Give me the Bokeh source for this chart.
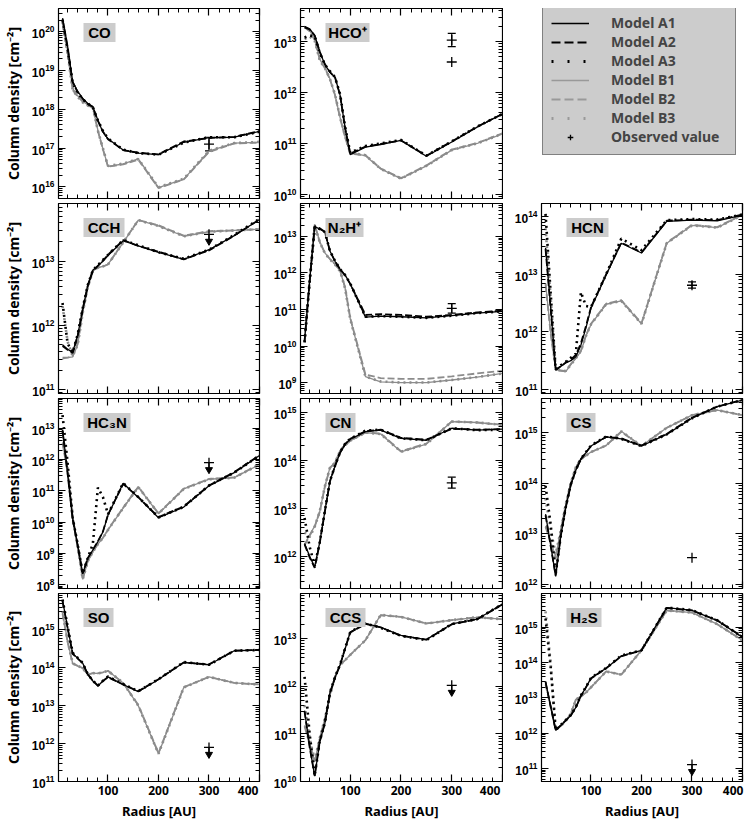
import numpy as np
from bokeh.plotting import figure
from bokeh.layouts import gridplot
from bokeh.models import (FixedTicker, LinearAxis, LogAxis, Range1d, Legend,
                          LegendItem, Whisker, ColumnDataSource, TeeHead, CustomJSTickFormatter)
from bokeh.embed import file_html
from bokeh.resources import INLINE
from bokeh.core.properties import value

# ---------------- data (log10 column density) ----------------
RADIUS = [10, 20, 30, 40, 50, 60, 70, 80, 90, 100, 130, 160, 200, 250, 300, 350, 400]

CO_A1 = [20.35, 19.63, 18.72, 18.46, 18.28, 18.15, 18.07, 17.72, 17.41, 17.24, 16.95, 16.87, 16.83, 17.15, 17.27, 17.28, 17.43]
CO_A2 = [20.33, 19.60, 18.70, 18.44, 18.27, 18.14, 18.06, 17.70, 17.43, 17.23, 16.95, 16.88, 16.84, 17.17, 17.26, 17.29, 17.44]
CO_A3 = [20.30, 19.55, 18.68, 18.43, 18.26, 18.15, 18.05, 17.72, 17.44, 17.25, 16.96, 16.87, 16.83, 17.14, 17.28, 17.28, 17.42]
CO_B1 = [20.30, 19.50, 18.54, 18.35, 18.20, 18.12, 18.06, 17.46, 16.98, 16.53, 16.59, 16.72, 15.98, 16.20, 16.92, 17.13, 17.15]
CO_B2 = [20.28, 19.48, 18.50, 18.33, 18.20, 18.10, 18.04, 17.44, 16.97, 16.52, 16.58, 16.70, 15.97, 16.19, 16.90, 17.12, 17.14]
CO_B3 = [20.25, 19.45, 18.50, 18.32, 18.18, 18.10, 18.05, 17.45, 16.99, 16.54, 16.60, 16.72, 15.99, 16.21, 16.93, 17.13, 17.16]

HCOP_A1 = [13.30, 13.25, 13.12, 12.80, 12.55, 12.40, 12.30, 11.95, 11.30, 10.78, 10.93, 10.98, 11.06, 10.75, 11.03, 11.32, 11.58]
HCOP_A2 = [13.28, 13.24, 13.12, 12.80, 12.56, 12.40, 12.30, 11.95, 11.30, 10.80, 10.94, 10.99, 11.06, 10.76, 11.04, 11.33, 11.58]
HCOP_A3 = [13.08, 13.12, 13.10, 12.78, 12.55, 12.42, 12.30, 11.97, 11.32, 10.82, 10.95, 11.00, 11.07, 10.76, 11.04, 11.33, 11.58]
HCOP_B1 = [13.30, 13.22, 13.05, 12.65, 12.49, 12.27, 11.95, 11.51, 11.13, 10.81, 10.76, 10.50, 10.31, 10.56, 10.87, 11.00, 11.19]
HCOP_B2 = [13.28, 13.20, 13.03, 12.64, 12.48, 12.26, 11.95, 11.50, 11.12, 10.80, 10.77, 10.51, 10.32, 10.57, 10.88, 11.01, 11.20]
HCOP_B3 = [13.05, 13.10, 13.02, 12.63, 12.48, 12.27, 11.96, 11.52, 11.14, 10.82, 10.77, 10.50, 10.31, 10.56, 10.87, 11.00, 11.19]

CCH_A1 = [11.70, 11.63, 11.58, 11.85, 12.25, 12.63, 12.86, 12.93, 13.00, 13.09, 13.32, 13.24, 13.14, 13.03, 13.18, 13.40, 13.65]
CCH_A2 = [11.68, 11.62, 11.57, 11.84, 12.26, 12.62, 12.85, 12.93, 13.01, 13.10, 13.33, 13.24, 13.15, 13.03, 13.17, 13.40, 13.65]
CCH_A3 = [12.35, 11.72, 11.58, 11.86, 12.27, 12.63, 12.86, 12.94, 13.02, 13.10, 13.33, 13.25, 13.14, 13.04, 13.18, 13.41, 13.66]
CCH_B1 = [11.48, 11.50, 11.51, 11.70, 12.20, 12.60, 12.85, 12.90, 12.92, 12.95, 13.29, 13.64, 13.55, 13.39, 13.46, 13.48, 13.50]
CCH_B2 = [11.50, 11.50, 11.52, 11.72, 12.22, 12.60, 12.86, 12.90, 12.92, 12.95, 13.30, 13.64, 13.56, 13.40, 13.47, 13.48, 13.50]
CCH_B3 = [12.30, 11.75, 11.52, 11.70, 12.20, 12.60, 12.85, 12.90, 12.92, 12.95, 13.29, 13.64, 13.55, 13.39, 13.46, 13.48, 13.50]

N2HP_A1 = [10.15, 11.78, 13.27, 13.20, 13.12, 12.60, 12.32, 12.10, 11.94, 11.70, 10.79, 10.82, 10.80, 10.77, 10.83, 10.90, 10.95]
N2HP_A2 = [10.13, 11.76, 13.28, 13.22, 13.12, 12.60, 12.32, 12.10, 11.93, 11.70, 10.85, 10.87, 10.85, 10.80, 10.85, 10.92, 10.97]
N2HP_A3 = [10.10, 11.75, 13.26, 13.20, 13.12, 12.60, 12.33, 12.10, 11.94, 11.71, 10.80, 10.82, 10.80, 10.77, 10.83, 10.90, 10.95]
N2HP_B1 = [10.15, 11.80, 13.33, 12.85, 12.55, 12.38, 12.24, 12.06, 11.58, 10.75, 9.16, 9.02, 9.00, 9.00, 9.07, 9.15, 9.25]
N2HP_B2 = [10.13, 11.78, 13.32, 12.84, 12.55, 12.38, 12.24, 12.06, 11.60, 10.77, 9.22, 9.12, 9.10, 9.10, 9.17, 9.25, 9.32]
N2HP_B3 = [10.10, 11.77, 13.30, 12.84, 12.54, 12.37, 12.23, 12.05, 11.57, 10.74, 9.16, 9.03, 9.00, 9.00, 9.07, 9.15, 9.25]

HCN_A1 = [13.46, 12.44, 11.35, 11.40, 11.46, 11.50, 11.57, 11.77, 12.07, 12.41, 12.99, 13.54, 13.37, 13.92, 13.94, 13.93, 14.03]
HCN_A2 = [13.44, 12.42, 11.34, 11.40, 11.47, 11.52, 11.60, 11.80, 12.10, 12.43, 13.00, 13.55, 13.38, 13.93, 13.95, 13.94, 14.04]
HCN_A3 = [14.05, 12.69, 11.35, 11.42, 11.48, 11.55, 11.62, 12.69, 12.45, 12.43, 13.00, 13.62, 13.42, 13.94, 13.96, 13.95, 14.04]
HCN_B1 = [12.85, 12.00, 11.35, 11.32, 11.31, 11.43, 11.54, 11.66, 11.93, 12.13, 12.48, 12.54, 12.14, 13.54, 13.85, 13.81, 14.03]
HCN_B2 = [12.83, 11.98, 11.34, 11.33, 11.32, 11.44, 11.55, 11.67, 11.94, 12.14, 12.49, 12.55, 12.15, 13.55, 13.86, 13.82, 14.04]
HCN_B3 = [13.80, 12.60, 11.35, 11.33, 11.32, 11.43, 11.54, 11.67, 11.93, 12.13, 12.48, 12.54, 12.14, 13.54, 13.85, 13.81, 14.03]

HC3N_A1 = [12.95, 11.58, 10.11, 9.27, 8.35, 8.85, 9.11, 9.38, 9.69, 10.22, 11.24, 10.79, 10.14, 10.48, 11.16, 11.58, 12.13]
HC3N_A2 = [12.93, 11.56, 10.10, 9.26, 8.37, 8.85, 9.12, 9.39, 9.70, 10.24, 11.22, 10.80, 10.16, 10.50, 11.17, 11.60, 12.14]
HC3N_A3 = [13.42, 11.90, 10.15, 9.28, 8.36, 8.86, 9.30, 11.10, 10.80, 10.25, 11.25, 10.80, 10.15, 10.49, 11.17, 11.58, 12.13]
HC3N_B1 = [12.55, 11.60, 10.20, 9.20, 8.17, 8.75, 9.05, 9.30, 9.50, 9.75, 10.45, 11.12, 10.27, 11.06, 11.37, 11.42, 11.84]
HC3N_B2 = [12.53, 11.58, 10.18, 9.20, 8.18, 8.76, 9.05, 9.30, 9.50, 9.76, 10.46, 11.13, 10.28, 11.07, 11.38, 11.43, 11.85]
HC3N_B3 = [12.90, 11.70, 10.20, 9.21, 8.18, 8.75, 9.05, 9.30, 9.50, 9.75, 10.45, 11.12, 10.27, 11.06, 11.37, 11.42, 11.84]

CN_A1 = [12.27, 12.00, 11.78, 12.30, 12.94, 13.57, 13.88, 14.16, 14.34, 14.44, 14.60, 14.63, 14.46, 14.42, 14.67, 14.63, 14.65]
CN_A2 = [12.25, 11.98, 11.76, 12.28, 12.93, 13.56, 13.88, 14.16, 14.34, 14.45, 14.61, 14.64, 14.47, 14.43, 14.66, 14.64, 14.65]
CN_A3 = [12.80, 12.20, 11.80, 12.30, 12.95, 13.57, 13.89, 14.17, 14.35, 14.45, 14.62, 14.64, 14.46, 14.42, 14.67, 14.63, 14.64]
CN_B1 = [12.25, 12.45, 12.63, 12.94, 13.46, 13.85, 13.95, 14.20, 14.32, 14.41, 14.58, 14.55, 14.18, 14.34, 14.81, 14.79, 14.74]
CN_B2 = [12.23, 12.43, 12.62, 12.93, 13.45, 13.84, 13.95, 14.20, 14.32, 14.41, 14.58, 14.56, 14.19, 14.35, 14.81, 14.79, 14.74]
CN_B3 = [12.50, 12.40, 12.62, 12.94, 13.46, 13.85, 13.95, 14.20, 14.32, 14.41, 14.58, 14.55, 14.18, 14.34, 14.81, 14.79, 14.74]

CS_A1 = [13.39, 12.79, 12.16, 12.94, 13.52, 13.97, 14.26, 14.48, 14.61, 14.74, 14.92, 14.88, 14.74, 14.97, 15.29, 15.52, 15.65]
CS_A2 = [13.37, 12.77, 12.18, 12.95, 13.52, 13.97, 14.26, 14.48, 14.61, 14.74, 14.92, 14.89, 14.75, 14.98, 15.30, 15.52, 15.65]
CS_A3 = [13.95, 13.20, 12.20, 12.95, 13.53, 13.98, 14.27, 14.49, 14.62, 14.75, 14.93, 14.88, 14.74, 14.97, 15.29, 15.52, 15.65]
CS_B1 = [13.16, 12.85, 12.55, 13.06, 13.58, 14.00, 14.32, 14.48, 14.55, 14.62, 14.75, 15.03, 14.74, 15.10, 15.35, 15.45, 15.35]
CS_B2 = [13.14, 12.84, 12.50, 13.05, 13.57, 14.00, 14.32, 14.48, 14.55, 14.62, 14.75, 15.02, 14.74, 15.10, 15.35, 15.45, 15.35]
CS_B3 = [13.70, 13.10, 12.60, 13.06, 13.58, 14.00, 14.32, 14.48, 14.55, 14.62, 14.75, 15.03, 14.74, 15.10, 15.35, 15.45, 15.35]

SO_A1 = [15.78, 15.07, 14.38, 14.25, 14.12, 13.82, 13.65, 13.52, 13.65, 13.76, 13.56, 13.37, 13.69, 14.14, 14.08, 14.45, 14.47]
SO_A2 = [15.76, 15.05, 14.37, 14.24, 14.12, 13.83, 13.66, 13.53, 13.65, 13.75, 13.56, 13.38, 13.70, 14.14, 14.09, 14.45, 14.47]
SO_A3 = [15.80, 15.10, 14.40, 14.26, 14.13, 13.83, 13.66, 13.53, 13.66, 13.77, 13.57, 13.38, 13.70, 14.15, 14.08, 14.45, 14.47]
SO_B1 = [15.45, 14.70, 14.12, 14.05, 13.99, 13.82, 13.86, 13.85, 13.88, 13.92, 13.60, 13.00, 11.73, 13.48, 13.76, 13.60, 13.56]
SO_B2 = [15.43, 14.68, 14.11, 14.05, 13.99, 13.82, 13.86, 13.85, 13.88, 13.92, 13.60, 13.02, 11.75, 13.49, 13.76, 13.60, 13.56]
SO_B3 = [15.50, 14.72, 14.12, 14.05, 13.99, 13.82, 13.86, 13.85, 13.88, 13.92, 13.60, 13.00, 11.73, 13.48, 13.76, 13.60, 13.56]

CCS_A1 = [11.49, 10.74, 10.11, 10.84, 11.22, 11.87, 12.18, 12.45, 12.79, 13.14, 13.32, 13.24, 13.07, 12.98, 13.31, 13.41, 13.73]
CCS_A2 = [11.47, 10.72, 10.12, 10.84, 11.22, 11.86, 12.18, 12.45, 12.80, 13.13, 13.31, 13.24, 13.06, 12.98, 13.30, 13.41, 13.72]
CCS_A3 = [12.20, 11.00, 10.12, 10.85, 11.23, 11.87, 12.19, 12.46, 12.80, 13.14, 13.32, 13.23, 13.06, 12.97, 13.31, 13.41, 13.73]
CCS_B1 = [11.18, 10.80, 10.43, 10.91, 11.32, 11.80, 12.21, 12.45, 12.55, 12.66, 12.97, 13.50, 13.46, 13.32, 13.39, 13.45, 13.41]
CCS_B2 = [11.16, 10.78, 10.40, 10.90, 11.31, 11.80, 12.21, 12.45, 12.55, 12.66, 12.97, 13.49, 13.46, 13.32, 13.39, 13.45, 13.41]
CCS_B3 = [11.60, 10.90, 10.45, 10.91, 11.32, 11.80, 12.21, 12.45, 12.55, 12.66, 12.97, 13.50, 13.46, 13.32, 13.39, 13.45, 13.41]

H2S_A1 = [13.47, 12.78, 12.08, 12.22, 12.36, 12.50, 12.73, 13.06, 13.30, 13.56, 13.84, 14.19, 14.35, 15.56, 15.48, 15.19, 14.72]
H2S_A2 = [13.45, 12.77, 12.08, 12.22, 12.36, 12.50, 12.73, 13.05, 13.30, 13.55, 13.84, 14.18, 14.35, 15.55, 15.48, 15.20, 14.73]
H2S_A3 = [15.25, 13.90, 12.08, 12.23, 12.37, 12.51, 12.74, 13.07, 13.31, 13.57, 13.85, 14.20, 14.35, 15.56, 15.49, 15.20, 14.72]
H2S_B1 = [13.40, 12.75, 12.11, 12.20, 12.35, 12.55, 12.95, 13.05, 13.15, 13.30, 13.75, 13.66, 14.35, 15.48, 15.42, 15.09, 14.63]
H2S_B2 = [13.38, 12.74, 12.10, 12.20, 12.35, 12.55, 12.95, 13.05, 13.15, 13.30, 13.75, 13.66, 14.35, 15.48, 15.42, 15.09, 14.63]
H2S_B3 = [15.45, 14.00, 12.11, 12.20, 12.35, 12.55, 12.95, 13.05, 13.15, 13.30, 13.75, 13.66, 14.35, 15.48, 15.42, 15.09, 14.63]

MODELS = ["Model A1", "Model A2", "Model A3", "Model B1", "Model B2", "Model B3"]

# observed values (log10), at 300 AU
OBS_SPECIES = ["CO", "HCO+", "HCO+", "CCH", "N2H+", "HCN", "HC3N", "CN", "CS", "SO", "CCS", "H2S"]
OBS_RADIUS = [300, 300, 300, 300, 300, 300, 300, 300, 300, 300, 300, 300]
OBS_LOG = [17.10, 13.03, 12.60, 13.42, 11.03, 12.81, 11.90, 13.53, 12.53, 11.90, 12.02, 11.11]
OBS_LOG_LO = [16.93, 12.90, None, None, 10.90, 12.76, None, 13.42, None, None, None, None]
OBS_LOG_HI = [17.28, 13.16, None, None, 11.16, 12.87, None, 13.65, None, None, None, None]
OBS_UPPER_LIMIT = [False, False, False, True, False, False, True, False, False, True, True, True]

# ---------------- layout / style ----------------
SERIES = {
    "CO": [CO_A1, CO_A2, CO_A3, CO_B1, CO_B2, CO_B3],
    "HCO+": [HCOP_A1, HCOP_A2, HCOP_A3, HCOP_B1, HCOP_B2, HCOP_B3],
    "CCH": [CCH_A1, CCH_A2, CCH_A3, CCH_B1, CCH_B2, CCH_B3],
    "N2H+": [N2HP_A1, N2HP_A2, N2HP_A3, N2HP_B1, N2HP_B2, N2HP_B3],
    "HCN": [HCN_A1, HCN_A2, HCN_A3, HCN_B1, HCN_B2, HCN_B3],
    "HC3N": [HC3N_A1, HC3N_A2, HC3N_A3, HC3N_B1, HC3N_B2, HC3N_B3],
    "CN": [CN_A1, CN_A2, CN_A3, CN_B1, CN_B2, CN_B3],
    "CS": [CS_A1, CS_A2, CS_A3, CS_B1, CS_B2, CS_B3],
    "SO": [SO_A1, SO_A2, SO_A3, SO_B1, SO_B2, SO_B3],
    "CCS": [CCS_A1, CCS_A2, CCS_A3, CCS_B1, CCS_B2, CCS_B3],
    "H2S": [H2S_A1, H2S_A2, H2S_A3, H2S_B1, H2S_B2, H2S_B3],
}
TITLES = {"CO": "CO", "HCO+": "HCO⁺", "CCH": "CCH", "N2H+": "N₂H⁺", "HCN": "HCN",
          "HC3N": "HC₃N", "CN": "CN", "CS": "CS", "SO": "SO", "CCS": "CCS", "H2S": "H₂S"}
TITLE_BOX_W = {"CO": 32, "HCO+": 44, "CCH": 41, "N2H+": 38, "HCN": 42, "HC3N": 47,
               "CN": 30, "CS": 29, "SO": 30, "CCS": 40, "H2S": 35}
YLIM = {"CO": (15.7, 20.6), "HCO+": (9.92, 13.65), "CCH": (10.94, 13.9), "N2H+": (8.7, 13.9),
        "HCN": (10.93, 14.23), "HC3N": (7.88, 13.95), "CN": (11.33, 15.29), "CS": (11.92, 15.68),
        "SO": (11.0, 15.96), "CCS": (10.0, 13.95), "H2S": (10.63, 15.96)}
GRID = [["CO", "HCO+", None], ["CCH", "N2H+", "HCN"], ["HC3N", "CN", "CS"], ["SO", "CCS", "H2S"]]
XLIM = (2, 400)

GREY = "#8c8c8c"
STYLES = [
    dict(line_color="black", line_width=1.3),
    dict(line_color="black", line_width=1.8, line_dash="7 3"),
    dict(line_color="black", line_width=2.6, line_dash="2 4"),
    dict(line_color=GREY, line_width=1.3),
    dict(line_color=GREY, line_width=1.8, line_dash="7 3"),
    dict(line_color=GREY, line_width=2.6, line_dash="2 4"),
]
FRAME_W = [201, 202, 201]
BORDER_L = [58, 39, 38]
BORDER_R = [2, 1, 4]
FRAME_H = [190, 190, 190, 188]
BORDER_T = [8, 0, 0, 0]
BORDER_B = [5, 5, 5, 34]
TICK_FONT = "Liberation Sans"
LABEL_FONT = "Noto Sans"
EMPTY = CustomJSTickFormatter(code="return ''")


def tick_axis_style(ax, show_labels):
    ax.major_tick_in = 7
    ax.major_tick_out = 0
    ax.minor_tick_in = 4
    ax.minor_tick_out = 0
    ax.major_tick_line_width = 1.2
    ax.axis_line_color = "black"
    ax.major_label_text_color = "black"
    ax.axis_label_text_color = "black"
    if not show_labels:
        ax.formatter = EMPTY
        ax.major_label_standoff = 0


def make_panel(name, row, col):
    lo, hi = YLIM[name]
    fh = FRAME_H[row]
    bottom = row == 3
    p = figure(frame_width=FRAME_W[col], frame_height=fh, y_axis_type="log",
               x_range=Range1d(*XLIM), y_range=Range1d(10 ** lo, 10 ** hi),
               output_backend="svg", toolbar_location=None)
    p.min_border_left = BORDER_L[col]
    p.min_border_right = BORDER_R[col]
    p.min_border_top = BORDER_T[row]
    p.min_border_bottom = BORDER_B[row]
    p.outline_line_color = "black"
    p.outline_line_width = 1.2
    p.grid.visible = False

    majors = [10.0 ** k for k in range(int(np.ceil(lo - 1e-9)), int(np.floor(hi + 1e-9)) + 1)]
    minors = [m * 10.0 ** k for k in range(int(np.floor(lo)), int(np.ceil(hi)) + 1)
              for m in range(2, 10) if lo <= np.log10(m * 10.0 ** k) <= hi]
    yt = FixedTicker(ticks=majors, minor_ticks=minors)
    xt = FixedTicker(ticks=[100, 200, 300, 400],
                     minor_ticks=[20, 40, 60, 80, 120, 140, 160, 180, 220, 240, 260, 280, 320, 340, 360, 380])

    yax = p.yaxis[0]
    yax.ticker = yt
    tick_axis_style(yax, True)
    yax.major_label_text_font = TICK_FONT
    yax.major_label_text_font_style = "bold"
    yax.major_label_text_font_size = "12px"
    yax.major_label_standoff = 4
    if col == 0:
        yax.axis_label = "Column density [cm⁻²]"
        yax.axis_label_text_font = LABEL_FONT
        yax.axis_label_text_font_style = "bold"
        yax.axis_label_text_font_size = "14px"
        yax.axis_label_standoff = 6

    xax = p.xaxis[0]
    xax.ticker = xt
    tick_axis_style(xax, bottom)
    if bottom:
        xax.major_label_text_font = LABEL_FONT
        xax.major_label_text_font_style = "bold"
        xax.major_label_text_font_size = "12px"
        xax.major_label_standoff = 0
        xax.major_label_overrides = {400: "400\u00a0"}
        xax.axis_label = "Radius [AU]"
        xax.axis_label_text_font = LABEL_FONT
        xax.axis_label_text_font_style = "bold"
        xax.axis_label_text_font_size = "13px"
        xax.axis_label_standoff = 0

    top_ax = LinearAxis(ticker=xt)
    tick_axis_style(top_ax, False)
    p.add_layout(top_ax, "above")
    right_ax = LogAxis(ticker=yt)
    tick_axis_style(right_ax, False)
    p.add_layout(right_ax, "right")

    series = SERIES[name]
    for i in [5, 4, 3, 2, 1, 0]:
        p.line(x=RADIUS, y=10.0 ** np.array(series[i]), **STYLES[i])

    # observed values
    ppd = fh / (hi - lo)  # pixels per decade
    for sp, r, v, vlo, vhi, lim in zip(OBS_SPECIES, OBS_RADIUS, OBS_LOG, OBS_LOG_LO,
                                         OBS_LOG_HI, OBS_UPPER_LIMIT):
        if sp != name:
            continue
        p.scatter(x=[r], y=[10.0 ** v], marker="cross", size=10, line_color="black", line_width=1.3)
        if vlo is not None:
            src = ColumnDataSource(dict(base=[r], lower=[10.0 ** vlo], upper=[10.0 ** vhi]))
            p.add_layout(Whisker(source=src, base="base", lower="lower", upper="upper",
                                 dimension="height", line_color="black", line_width=1.2,
                                 upper_head=TeeHead(size=8, line_width=1.2),
                                 lower_head=TeeHead(size=8, line_width=1.2)))
        if lim:
            vend = v - 7.0 / ppd
            p.segment(x0=[r], y0=[10.0 ** v], x1=[r], y1=[10.0 ** vend], line_color="black", line_width=1.3)
            p.scatter(x=[r], y=[10.0 ** vend], marker="inverted_triangle", size=7,
                      fill_color="black", line_color="black")

    # species name in a grey box (placed 25 px from the left, 15 px below the top)
    bw = TITLE_BOX_W[name]
    bx = XLIM[0] + (25 + bw / 2.0) * (XLIM[1] - XLIM[0]) / FRAME_W[col]
    by = 10.0 ** (hi - (15 + 9) / ppd)
    p.rect(x=[bx], y=[by], width=bw, height=19, width_units="screen", height_units="screen",
           fill_color="#cccccc", line_color=None)
    p.text(x=[bx], y=[by], text=[TITLES[name]], text_font=value(TICK_FONT),
           text_font_style="bold", text_font_size="15px", text_align="center",
           text_baseline="middle", text_color="black")
    return p


def make_legend_panel():
    p = figure(frame_width=FRAME_W[2], frame_height=FRAME_H[0], x_range=(0, 1), y_range=(0, 1),
               x_axis_location=None, y_axis_location=None, output_backend="svg",
               toolbar_location=None)
    p.min_border_left = BORDER_L[2]
    p.min_border_right = BORDER_R[2]
    p.min_border_top = BORDER_T[0]
    p.min_border_bottom = BORDER_B[0]
    p.outline_line_color = None
    p.grid.visible = False
    leg_styles = [
        dict(line_color="black", line_width=1.3),
        dict(line_color="black", line_width=2.0, line_dash="9 4"),
        dict(line_color="black", line_width=3.0, line_dash="2 14"),
        dict(line_color="#999999", line_width=1.3),
        dict(line_color="#999999", line_width=2.0, line_dash="9 4"),
        dict(line_color="#999999", line_width=3.0, line_dash="2 14"),
    ]
    items = []
    for label, st in zip(MODELS, leg_styles):
        r = p.line(x=[0.5], y=[2.0], **st)
        items.append(LegendItem(label=value(label), renderers=[r]))
    ro = p.scatter(x=[0.5], y=[2.0], marker="cross", size=15, line_color="black", line_width=1.3)
    items.append(LegendItem(label=value("Observed value"), renderers=[ro]))
    leg = Legend(items=items, location=(1, 43), orientation="vertical",
                 glyph_width=38, glyph_height=14, label_height=14, label_width=116,
                 spacing=-3, padding=8, margin=0, label_standoff=22,
                 label_text_font=LABEL_FONT, label_text_font_style="bold",
                 label_text_font_size="14px", background_fill_color="#cccccc",
                 background_fill_alpha=1.0, border_line_color="#333333", border_line_width=1.2)
    p.add_layout(leg)
    return p


rows = []
for ri, names in enumerate(GRID):
    row_figs = []
    for ci, nm in enumerate(names):
        row_figs.append(make_legend_panel() if nm is None else make_panel(nm, ri, ci))
    rows.append(row_figs)

grid = gridplot(rows, toolbar_location=None)
open("out.html", "w").write(file_html(grid, INLINE))
